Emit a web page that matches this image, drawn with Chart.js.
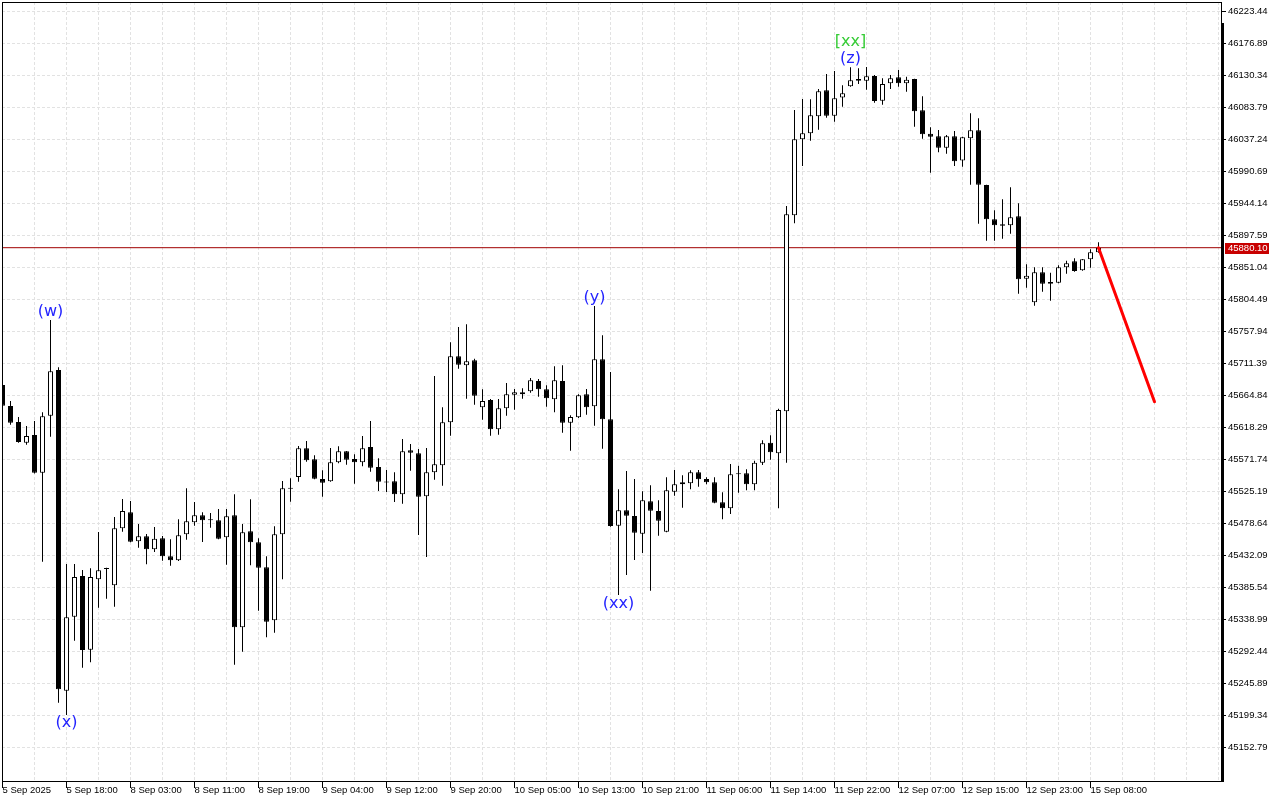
<!DOCTYPE html>
<html><head><meta charset="utf-8">
<script src="https://cdn.jsdelivr.net/npm/chart.js@4.4.1/dist/chart.umd.min.js"></script>
<style>html,body{margin:0;padding:0;background:#fff;overflow:hidden}#wrap{width:1280px;height:800px;position:relative}</style>
</head><body><div id="wrap"><canvas id="c" width="1280" height="800"></canvas></div>
<script>
// ---- data (H1 candles, index 0 = 5 Sep 2025 10:00) ----
const xTickLabels = ["5 Sep 2025","5 Sep 18:00","8 Sep 03:00","8 Sep 11:00","8 Sep 19:00","9 Sep 04:00","9 Sep 12:00","9 Sep 20:00","10 Sep 05:00","10 Sep 13:00","10 Sep 21:00","11 Sep 06:00","11 Sep 14:00","11 Sep 22:00","12 Sep 07:00","12 Sep 15:00","12 Sep 23:00","15 Sep 08:00"];
const yTickValues = [46223.44,46176.89,46130.34,46083.79,46037.24,45990.69,45944.14,45897.59,45851.04,45804.49,45757.94,45711.39,45664.84,45618.29,45571.74,45525.19,45478.64,45432.09,45385.54,45338.99,45292.44,45245.89,45199.34,45152.79];

const openP = [45680.36,45649.82,45626.54,45596.43,45607.63,45552.79,45635.71,45702.18,45235.67,45343.31,
45402.52,45295.31,45397.72,45412.60,45388.99,45471.91,45495.18,45453.00,45460.27,45441.36,
45457.36,45431.18,45425.36,45463.18,45480.64,45490.82,45483.54,45483.54,45458.81,45490.82,
45327.89,45467.54,45451.54,45415.17,45338.07,45463.18,45529.60,45546.53,45588.28,45572.28,
45543.62,45540.28,45567.92,45583.92,45572.72,45567.92,45590.17,45561.08,45538.40,45540.28,
45521.37,45585.37,45581.01,45518.46,45553.37,45563.55,45626.10,45722.11,45709.02,45716.29,
45647.92,45658.54,45615.92,45646.47,45666.25,45666.84,45671.20,45686.18,45674.11,45659.56,
45686.18,45625.52,45633.38,45666.84,45649.38,45717.75,45630.47,45475.69,45498.09,45489.80,
45464.05,45511.18,45497.07,45466.96,45525.15,45535.91,45537.37,45553.37,45543.62,45538.82,
45509.73,45501.00,45550.46,45551.92,45535.91,45567.33,45596.43,45581.01,45642.11,45927.23,
46037.78,46046.51,46071.24,46109.06,46072.11,46098.59,46114.88,46125.50,46123.03,46129.86,
46093.93,46119.24,46127.97,46119.24,46125.50,46079.97,46045.93,46042.15,46025.56,46042.15,
46006.94,46039.24,46050.87,45971.30,45921.41,45914.13,45912.68,45925.77,45835.00,45800.67,
45844.31,45830.20,45829.18,45851.58,45860.31,45847.22,45863.22,45873.40];
const highP = [45686.18,45657.09,45633.81,45620.72,45628.00,45640.65,45774.92,45706.11,45419.97,45419.97,
45411.25,45413.72,45466.52,45414.59,45488.35,45514.53,45511.62,45478.16,45463.62,45473.80,
45460.71,45455.91,45485.00,45530.09,45510.17,45495.18,45494.16,45499.98,45499.98,45521.37,
45478.16,45514.09,45457.36,45431.18,45474.82,45540.71,45544.64,45591.63,45598.90,45578.10,
45556.28,45588.72,45591.19,45584.20,45579.55,45606.18,45628.00,45573.74,45556.72,45553.37,
45601.81,45594.54,45587.26,45588.72,45693.46,45647.92,45742.48,45764.74,45768.66,45718.62,
45674.11,45660.00,45660.00,45683.27,45674.55,45675.56,45690.55,45689.09,45679.93,45707.57,
45709.02,45636.29,45666.84,45674.55,45795.28,45752.66,45699.28,45528.64,45555.26,45543.62,
45525.73,45534.46,45512.64,45546.10,45556.72,45549.01,45556.28,45556.72,45546.10,45546.10,
45524.28,45565.44,45562.97,45557.73,45570.24,45599.92,45607.19,45645.89,45940.75,46080.40,
46096.41,46095.97,46110.95,46132.77,46137.14,46116.33,46142.52,46141.06,46142.96,46131.32,
46126.52,46131.32,46138.59,46128.84,46125.90,46100.33,46055.24,46051.31,46044.04,46049.86,
46041.56,46075.60,46068.33,45971.50,45934.50,45950.50,45967.96,45944.68,45855.94,45851.58,
45851.58,45843.73,45854.49,45861.18,45864.67,45863.70,45877.76,45887.95];
const lowP = [45648.36,45622.61,45596.43,45593.52,45551.62,45423.32,45605.16,45218.21,45200.32,45308.40,
45269.12,45276.98,45356.40,45369.50,45357.86,45466.96,45451.54,45443.69,45419.54,45437.43,
45424.78,45417.50,45424.50,45455.32,45475.69,45451.98,45472.78,45455.91,45418.96,45273.49,
45292.40,45418.08,45352.04,45313.34,45320.04,45397.72,45510.60,45539.70,45568.79,45543.19,
45517.88,45539.50,45566.46,45564.42,45536.79,45562.10,45554.24,45526.17,45524.71,45510.17,
45507.69,45555.70,45462.16,45430.16,45542.61,45533.88,45606.61,45704.08,45660.43,45651.71,
45629.89,45606.61,45608.07,45635.71,45644.43,45660.43,45669.16,45663.34,45648.80,45640.65,
45610.98,45584.79,45632.36,45637.16,45621.16,45587.70,45474.23,45374.88,45403.97,45425.79,
45435.98,45381.13,45461.14,45466.00,45519.33,45501.87,45528.64,45532.44,45535.91,45508.27,
45485.00,45492.71,45523.69,45527.19,45527.19,45563.99,45571.70,45501.00,45567.33,45915.59,
45998.94,46035.75,46051.75,46069.20,46063.38,46085.20,46114.40,46118.23,46109.93,46091.02,
46088.11,46110.95,46114.30,46107.02,46056.11,46038.65,45989.19,46018.87,46016.83,45998.94,
45997.92,45971.74,45915.01,45890.28,45890.28,45893.19,45900.46,45813.18,45821.91,45795.72,
45816.09,45802.99,45828.50,45842.27,45845.18,45846.70,45851.00,45872.90];
const closeP = [45650.25,45625.52,45597.45,45606.18,45552.79,45634.83,45700.29,45237.70,45342.44,45401.06,
45294.87,45401.06,45410.81,45413.60,45471.91,45497.07,45452.42,45460.27,45441.36,45456.78,
45431.18,45425.36,45461.72,45482.09,45490.82,45483.54,45484.00,45456.78,45489.36,45327.89,
45466.09,45451.54,45414.59,45336.04,45463.18,45530.09,45530.09,45588.28,45570.83,45544.06,
45538.24,45567.92,45583.92,45571.70,45567.92,45588.28,45560.06,45539.70,45538.82,45521.37,
45583.92,45581.88,45517.88,45553.37,45565.01,45626.10,45722.11,45709.89,45714.84,45664.80,
45657.09,45615.92,45646.47,45666.84,45669.74,45669.74,45687.20,45674.11,45661.02,45687.20,
45625.52,45633.81,45665.38,45647.92,45717.75,45630.47,45475.25,45498.09,45490.24,45465.51,
45512.64,45497.51,45482.96,45527.19,45535.91,45538.82,45553.37,45543.19,45538.82,45509.15,
45501.00,45550.46,45550.90,45535.91,45567.33,45595.55,45582.46,45644.00,45928.68,46037.78,
46046.51,46072.69,46107.61,46072.11,46097.42,46104.70,46123.61,46123.03,46129.43,46093.50,
46118.23,46126.52,46119.24,46124.48,46078.51,46045.06,46041.56,46025.56,46042.15,46005.78,
46040.69,46050.87,45971.74,45921.41,45912.68,45912.10,45924.32,45834.12,45839.36,45844.31,
45827.72,45827.72,45851.58,45857.40,45846.20,45863.22,45873.40,45880.10];

// forecast arrow (candle index, price)
const projIndex = [137, 144];
const projPrice = [45880.10, 45656.00];

// wave labels (anchor candle index, price at text centre)
const waveText  = ["(w)", "(x)", "(y)", "(xx)", "(z)", "[xx]"];
const waveIndex = [6, 8, 74, 77, 106, 106];
const wavePrice = [45786.6, 45188.7, 45806.9, 45362.5, 46154.6, 46179.3];
const waveColor = ["#2424ff", "#2424ff", "#2424ff", "#2424ff", "#2424ff", "#36cc36"];

// ---- chart ----
const X_MIN = -0.0625, X_MAX = 152.4375;
const Y_MAX = 46237.51, Y_MIN = 45104.31;
const LAST_LABEL_INDEX = (xTickLabels.length - 1) * 8;
const idx = openP.map((_, i) => i);
const lastClose = closeP[closeP.length - 1];

Chart.defaults.font.family = '"Liberation Sans", Arial, sans-serif';
Chart.defaults.font.size = 9.5;
Chart.defaults.color = '#000';

const mtPlugin = {
  id: 'mt',
  afterDraw(chart) {
    const {ctx, chartArea: a, scales: {x, y}} = chart;
    ctx.save();
    ctx.font = '16px "DejaVu Sans"';
    ctx.textAlign = 'center';
    ctx.textBaseline = 'middle';
    waveText.forEach((t, k) => {
      ctx.fillStyle = waveColor[k];
      ctx.fillText(t, x.getPixelForValue(waveIndex[k]), y.getPixelForValue(wavePrice[k]));
    });
    // frame
    ctx.fillStyle = '#000';
    const L = Math.round(a.left), T = Math.round(a.top), R = Math.round(a.right), B = Math.round(a.bottom);
    ctx.fillRect(L, T, R - L, 1);
    ctx.fillRect(L, T, 1, B - T + 1);
    ctx.fillRect(L, B, R - L + 2, 1);
    ctx.fillRect(R - 1, T, 1, 21);
    ctx.fillRect(R - 1, T + 21, 3, B - T - 20);
    // current price tag
    const py = Math.round(y.getPixelForValue(lastClose));
    ctx.fillStyle = '#c80000';
    ctx.fillRect(R + 3, py - 5, 44, 11);
    ctx.fillStyle = '#fff';
    ctx.font = '9.5px "Liberation Sans"';
    ctx.textAlign = 'left';
    ctx.fillText(lastClose.toFixed(2), R + 6, py + 0.5);
    ctx.restore();
  }
};

new Chart(document.getElementById('c'), {
  type: 'bar',
  data: {
    datasets: [
      {
        type: 'line', label: 'forecast', order: 0,
        data: projIndex.map((v, k) => ({x: v, y: projPrice[k]})),
        borderColor: '#ff0000', borderWidth: 3, pointRadius: 0, borderCapStyle: 'round'
      },
      {
        type: 'line', label: 'price', order: 3,
        data: [{x: X_MIN, y: lastClose}, {x: X_MAX, y: lastClose}],
        borderColor: '#a00000', borderWidth: 1, pointRadius: 0
      },
      {
        label: 'body', order: 1, grouped: false,
        data: idx.map(i => ({x: i, y: [openP[i], closeP[i]]})),
        barThickness: 5, minBarLength: 1, borderWidth: 1, borderSkipped: false, inflateAmount: 0,
        borderColor: '#000',
        backgroundColor: c => closeP[c.dataIndex] >= openP[c.dataIndex] ? '#ffffff' : '#000000'
      },
      {
        label: 'wick', order: 2, grouped: false,
        data: idx.map(i => ({x: i, y: [lowP[i], highP[i]]})),
        barThickness: 1, borderWidth: 0, inflateAmount: 0, backgroundColor: '#000'
      }
    ]
  },
  options: {
    responsive: false, animation: false, devicePixelRatio: 1,
    layout: {padding: {top: 2, left: 2, right: 0, bottom: 0}},
    plugins: {legend: {display: false}, tooltip: {enabled: false}},
    scales: {
      x: {
        type: 'linear', min: X_MIN, max: X_MAX, offset: false, bounds: 'data',
        afterBuildTicks: s => { const t = []; for (let v = 0; v <= 152; v += 4) t.push({value: v}); s.ticks = t; },
        afterFit: s => { s.height = 19; s.paddingLeft = 0; s.paddingRight = 0; },
        border: {display: false, dash: [3, 2]},
        grid: {
          offset: false, color: '#e2e2e2', lineWidth: 1, drawTicks: true, tickLength: 7,
          tickColor: c => (c.tick && c.tick.value % 8 === 0 && c.tick.value <= LAST_LABEL_INDEX) ? '#000' : 'rgba(0,0,0,0)'
        },
        ticks: {
          autoSkip: false, maxRotation: 0, minRotation: 0, align: 'start', padding: -3, color: '#000',
          callback: v => (v % 8 === 0 && xTickLabels[v / 8] !== undefined) ? xTickLabels[v / 8] : ''
        }
      },
      y: {
        type: 'linear', position: 'right', min: Y_MIN, max: Y_MAX, beginAtZero: false, bounds: 'data',
        afterBuildTicks: s => { s.ticks = yTickValues.map(v => ({value: v})); },
        afterFit: s => { s.width = 58; s.paddingTop = 0; s.paddingBottom = 0; },
        border: {display: false, dash: [3, 2]},
        grid: {color: '#e2e2e2', lineWidth: 1, drawTicks: true, tickLength: 4, tickColor: '#000'},
        ticks: {padding: 2, color: '#000', callback: v => Number(v).toFixed(2)}
      }
    }
  },
  plugins: [mtPlugin]
});
</script></body></html>
